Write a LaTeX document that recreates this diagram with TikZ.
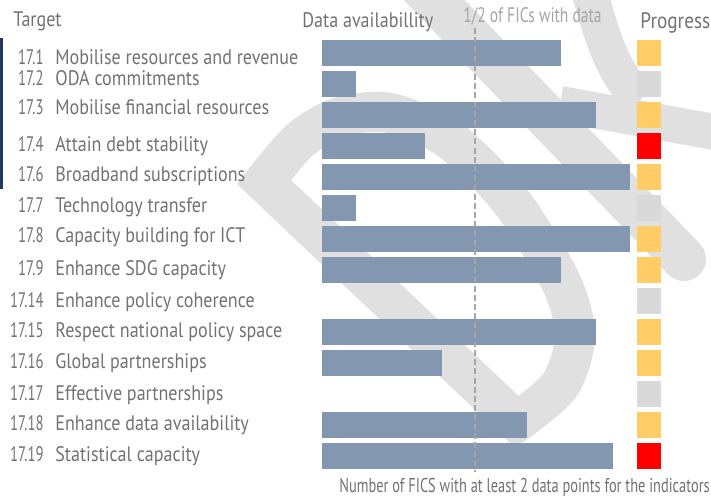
\documentclass[tikz,border=0pt]{standalone}
\usepackage{fontspec}
\setmainfont{PT Sans}[FakeStretch=0.86]
\newfontfamily\estrecha{PT Sans}[FakeStretch=0.74]
\newfontfamily\cifras{PT Sans}[FakeStretch=0.7]
\newfontfamily\pie{PT Sans}[FakeStretch=0.72]
\definecolor{texto}{HTML}{727272}
\definecolor{barra}{HTML}{8497B0}
\definecolor{amarillo}{HTML}{FFCC66}
\definecolor{grisp}{HTML}{D9D9D9}
\definecolor{rojo}{HTML}{FF0000}
\definecolor{marca}{HTML}{E0E0E0}
\definecolor{azul}{HTML}{1F3864}
\definecolor{guia}{HTML}{A6A6A6}
\begin{document}
\begin{tikzpicture}[x=0.5pt,y=-0.5pt,
        etiq/.style={text=texto,font=\fontsize{10.5}{12}\selectfont,inner sep=0pt},
        fondo/.style={draw=marca,line width=20pt}]
        \useasboundingbox (0,0) rectangle (711,496);
        % marca de agua
        \draw[fondo,line join=miter] plot[smooth] coordinates {(264,182) (300,140) (340,117) (390,113) (450,140) (510,200) (560,280) (575,335) (560,385) (517,422)} -- cycle;
        \draw[fondo,line width=22pt,line cap=round] (410,-25) -- (684,259);
        \draw[fondo,line width=18pt] (585,-25) .. controls (600,30) and (610,70) .. (640,100);
        \draw[fondo,line width=18pt] (560,104) -- (725,134);
        \fill[azul] (0,38) rectangle (3,189); % barra lateral
        % encabezados
        \node[etiq,anchor=base west] (tgt) at (13,27) {Target};
        \node[etiq,anchor=base west] (dat) at (302,28) {Data availabillity};
        \node[etiq,anchor=base west,text=guia,font=\fontsize{10.5}{12}\estrecha] (mitad) at (463,23) {1/2 of FICs with data};
        \node[etiq,anchor=base west,font=\fontsize{11.2}{12}\selectfont] (prg) at (640,29) {Progress};
        % filas
        \foreach \i/\num/\name/\val/\col/\bl [evaluate=\i as \yc using 22+31*\i] in {
                1/17.1/Mobilise resources and revenue/14/amarillo/65,
                2/17.2/ODA commitments/2/grisp/86,
                3/17.3/Mobilise financial resources/16/amarillo/115,
                4/17.4/Attain debt stability/6/rojo/152,
                5/17.6/Broadband subscriptions/18/amarillo/182,
                6/17.7/Technology transfer/2/grisp/213,
                7/17.8/Capacity building for ICT/18/amarillo/243,
                8/17.9/Enhance SDG capacity/14/amarillo/276,
                9/17.14/Enhance policy coherence/0/grisp/307,
                10/17.15/Respect national policy space/16/amarillo/337,
                11/17.16/Global partnerships/7/amarillo/368,
                12/17.17/Effective partnerships/0/grisp/400,
                13/17.18/Enhance data availability/12/amarillo/430,
                14/17.19/Statistical capacity/17/rojo/461} {
                \node[etiq,anchor=base east,font=\fontsize{10.5}{12}\cifras] (num\i) at (44,\bl) {\num};
                \node[etiq,anchor=base west] (lbl\i) at (55,\bl) {\name};
                \ifnum\val>0 \fill[barra] (322,\yc-13) rectangle (322+17.1*\val,\yc+13); \fi
                \fill[\col] (637,\yc-13) rectangle (661,\yc+13);
        }
        % linea de la mitad
        \coordinate (mtop) at (475,28);
        \coordinate (mbot) at (475,472);
        \draw[guia,line width=0.7pt,dash pattern=on 3pt off 1.6pt] (mtop) -- (mbot);
        \node[etiq,anchor=base west,font=\fontsize{10}{12}\pie] (eje) at (339,492) {Number of FICS with at least 2 data points for the indicators};
\end{tikzpicture}
\end{document}
